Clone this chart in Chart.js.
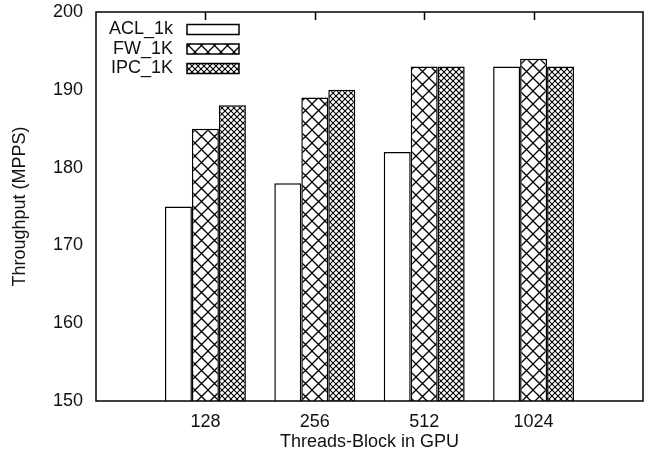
<!DOCTYPE html>
<html>
<head>
<meta charset="utf-8">
<script src="https://cdn.jsdelivr.net/npm/chart.js@4/dist/chart.umd.min.js"></script>
<style>
  body { margin: 0; background: #fff; }
</style>
</head>
<body>
<canvas id="tp-chart" width="649" height="460"></canvas>
<script>
var categories = ['128', '256', '512', '1024'];
var aclValues = [175, 178, 182, 193];
var fwValues = [185, 189, 193, 194];
var ipcValues = [188, 190, 193, 193];
var seriesNames = ['ACL_1k', 'FW_1K', 'IPC_1K'];

var FONT = "'Liberation Sans', Arial, sans-serif";

// diagonal cross hatch tile
function hatch(size, lw) {
	var c = document.createElement('canvas');
	c.width = size; c.height = size;
	var g = c.getContext('2d');
	g.fillStyle = '#fff';
	g.fillRect(0, 0, size, size);
	g.strokeStyle = '#000';
	g.lineWidth = lw;
	g.beginPath();
	g.moveTo(-1, -1); g.lineTo(size + 1, size + 1);
	g.moveTo(size + 1, -1); g.lineTo(-1, size + 1);
	g.stroke();
	return g.createPattern(c, 'repeat');
}

function toPoints(vals) {
	return vals.map(function (v, i) { return { x: i + 1, y: v }; });
}

var boxPlugin = {
	id: 'box',
	afterDatasetsDraw: function (chart) {
		var a = chart.chartArea, ctx = chart.ctx, xs = chart.scales.x;
		ctx.save();
		ctx.strokeStyle = '#000';
		ctx.lineWidth = 1.5;
		ctx.strokeRect(a.left, a.top, a.right - a.left, a.bottom - a.top);
		ctx.beginPath();
		for (var i = 1; i <= categories.length; i++) {
			var px = Math.round(xs.getPixelForValue(i)) + 0.5;
			ctx.moveTo(px, a.top);
			ctx.lineTo(px, a.top + 8);
		}
		ctx.stroke();

		// legend, gnuplot style: label then sample
		ctx.font = '18px ' + FONT;
		ctx.textAlign = 'right';
		ctx.textBaseline = 'middle';
		ctx.fillStyle = '#111';
		chart.data.datasets.forEach(function (ds, i) {
			var y = 29.5 + i * 19.5;
			ctx.fillText(ds.label, 173, y);
			ctx.fillStyle = ds.backgroundColor;
			ctx.fillRect(187, y - 5, 52, 10);
			ctx.strokeRect(187, y - 5, 52, 10);
			ctx.fillStyle = '#111';
		});
		ctx.restore();
	}
};

var ctx = document.getElementById('tp-chart').getContext('2d');
var myChart = new Chart(ctx, {
	type: 'bar',
	data: {
		datasets: [{
			label: seriesNames[0],
			data: toPoints(aclValues),
			backgroundColor: '#fff',
			borderColor: '#000',
			borderWidth: 1.5
		}, {
			label: seriesNames[1],
			data: toPoints(fwValues),
			backgroundColor: hatch(13, 1.3),
			borderColor: '#000',
			borderWidth: 1.5
		}, {
			label: seriesNames[2],
			data: toPoints(ipcValues),
			backgroundColor: hatch(6, 1.1),
			borderColor: '#000',
			borderWidth: 1.5
		}]
	},
	options: {
		responsive: false,
		animation: false,
		layout: { padding: { left: 0, right: 6, top: 12, bottom: 0 } },
		categoryPercentage: 0.74,
		barPercentage: 1.0,
		plugins: { legend: { display: false }, tooltip: { enabled: false } },
		scales: {
			x: {
				type: 'linear',
				min: 0,
				max: categories.length + 1,
				offset: false,
				afterFit: function (s) { s.height = 59; s.paddingLeft = 0; s.paddingRight = 0; },
				grid: { display: false, drawTicks: false },
				border: { display: false },
				ticks: {
					stepSize: 1,
					padding: 10,
					autoSkip: false,
					maxRotation: 0,
					color: '#111',
					font: { family: FONT, size: 18 },
					callback: function (v) { return categories[v - 1] || ''; }
				},
				title: {
					display: true,
					text: 'Threads-Block in GPU',
					color: '#111',
					font: { family: FONT, size: 18 },
					padding: { top: 0, bottom: 7 }
				}
			},
			y: {
				min: 150,
				max: 200,
				afterFit: function (s) { s.width = 96; s.paddingTop = 0; s.paddingBottom = 0; },
				grid: { display: false, drawTicks: false },
				border: { display: false },
				ticks: {
					stepSize: 10,
					padding: 13,
					color: '#111',
					font: { family: FONT, size: 18 }
				},
				title: {
					display: true,
					text: 'Throughput (MPPS)',
					color: '#111',
					font: { family: FONT, size: 18 },
					padding: { top: 9, bottom: 0 }
				}
			}
		}
	},
	plugins: [boxPlugin]
});
</script>
</body>
</html>
